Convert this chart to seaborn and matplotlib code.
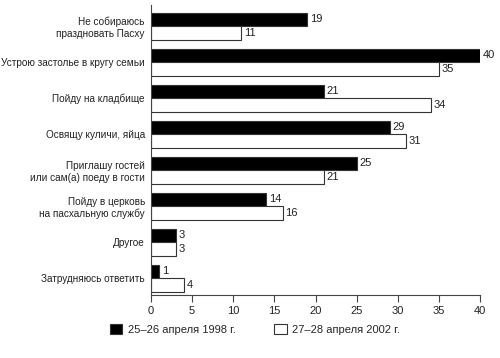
import matplotlib
matplotlib.use("Agg")
import matplotlib.pyplot as plt
from matplotlib.patches import Patch
import pandas as pd
import seaborn as sns

categories = [
    "Не собираюсь\nпраздновать Пасху",
    "Устрою застолье в кругу семьи",
    "Пойду на кладбище",
    "Освящу куличи, яйца",
    "Приглашу гостей\nили сам(а) поеду в гости",
    "Пойду в церковь\nна пасхальную службу",
    "Другое",
    "Затрудняюсь ответить",
]
series_names = ["25–26 апреля 1998 г.", "27–28 апреля 2002 г."]
values_1998 = [19, 40, 21, 29, 25, 14, 3, 1]
values_2002 = [11, 35, 34, 31, 21, 16, 3, 4]
x_ticks = [0, 5, 10, 15, 20, 25, 30, 35, 40]

rows = []
for cat, a, b in zip(categories, values_1998, values_2002):
    rows.append([cat, series_names[0], a])
    rows.append([cat, series_names[1], b])
df = pd.DataFrame(rows, columns=["Ответ", "Опрос", "Процент"])

sns.set_theme(style="white")
plt.rcParams["font.family"] = ["Liberation Sans", "DejaVu Sans"]

fig = plt.figure(figsize=(5.0, 3.58), dpi=100)
ax = fig.add_axes([0.302, 0.176, 0.658, 0.810])

sns.barplot(data=df, y="Ответ", x="Процент", hue="Опрос", orient="h",
            palette=["black", "white"], width=0.75, edgecolor="#333333",
            linewidth=0.8, ax=ax, legend=False)

for cont in ax.containers:
    ax.bar_label(cont, padding=2, fontsize=8, color="#222222")

ax.set_xlim(0, 40)
ax.set_ylim(7.47, -0.583)
ax.set_xticks(x_ticks)
ax.set_xlabel("")
ax.set_ylabel("")
ax.tick_params(axis="x", direction="out", length=5, width=0.8, color="#444444",
               labelsize=8, labelcolor="#222222", pad=3, bottom=True)
ax.tick_params(axis="y", length=0, labelsize=7.2, labelcolor="#222222", pad=4.5)
for side in ["top", "right"]:
    ax.spines[side].set_visible(False)
for side in ["left", "bottom"]:
    ax.spines[side].set_color("#444444")
    ax.spines[side].set_linewidth(0.8)

handles = [Patch(facecolor="black", edgecolor="#333333", linewidth=0.8),
           Patch(facecolor="white", edgecolor="#333333", linewidth=0.8)]
fig.legend(handles, series_names, loc="center", bbox_to_anchor=(0.51, 0.08),
           ncol=2, frameon=False, fontsize=8, handlelength=1.1, handleheight=1.1,
           columnspacing=3.5, handletextpad=0.5)

fig.savefig("out.png", dpi=100)
